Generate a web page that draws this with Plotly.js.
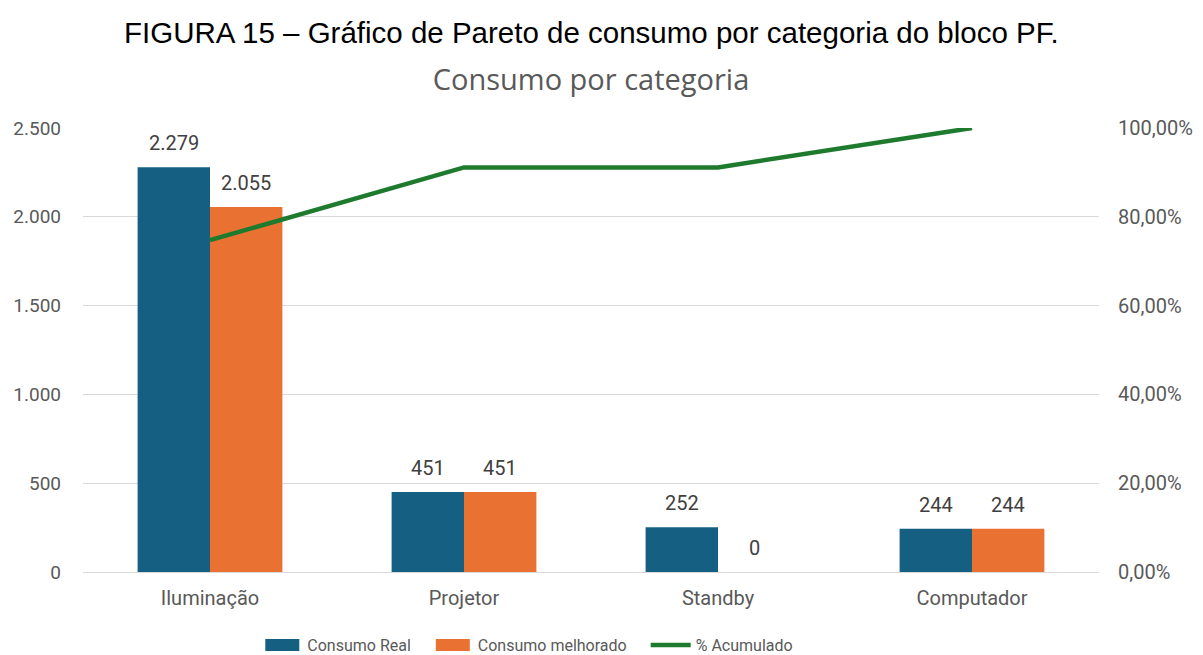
<!DOCTYPE html>
<html>
<head>
<meta charset="utf-8">
<script src="https://cdn.plot.ly/plotly-3.0.1.min.js"></script>
<style>html,body{margin:0;padding:0;background:#fff;}#chart{width:1203px;height:655px;}</style>
</head>
<body>
<div id="chart"></div>
<script>
var categories = ["Iluminação", "Projetor", "Standby", "Computador"];
var consumoReal = [2279, 451, 252, 244];
var consumoMelhorado = [2055, 451, 0, 244];
var acumulado = [0.7473, 0.9113, 0.9113, 1.0];
var leftTicks = [0, 500, 1000, 1500, 2000, 2500];
var rightTicks = [0, 0.2, 0.4, 0.6, 0.8, 1.0];

function fmt(n) { return String(n).replace(/\B(?=(\d{3})+(?!\d))/g, "."); }

var gray = "#595959";
var tickFont = {family: "Roboto, sans-serif", size: 19, color: gray};
var rightFont = {family: "Roboto, sans-serif", size: 20, color: gray};
var catFont = {family: "Roboto, sans-serif", size: 20, color: gray};
var labelFont = {family: "Roboto, sans-serif", size: 20, color: "#404040"};

var traces = [
  {type: "bar", name: "Consumo Real", x: categories, y: consumoReal,
   marker: {color: "#156082"}, hoverinfo: "none"},
  {type: "bar", name: "Consumo melhorado", x: categories, y: consumoMelhorado,
   marker: {color: "#E97132"}, hoverinfo: "none"},
  {type: "scatter", mode: "lines", name: "% Acumulado", x: categories, y: acumulado,
   yaxis: "y2", line: {color: "#1E7B2E", width: 4.5}, hoverinfo: "none"}
];

var annotations = [];
categories.forEach(function (c, i) {
  annotations.push({x: c, y: consumoReal[i], xref: "x", yref: "y", text: fmt(consumoReal[i]),
    showarrow: false, xshift: -36, yshift: 10, yanchor: "bottom", font: labelFont});
  annotations.push({x: c, y: consumoMelhorado[i], xref: "x", yref: "y", text: fmt(consumoMelhorado[i]),
    showarrow: false, xshift: 36, yshift: 10, yanchor: "bottom", font: labelFont});
});
annotations.push({xref: "paper", yref: "paper", x: 0.5, y: 1, yshift: 96, xanchor: "center", yanchor: "middle",
  showarrow: false, text: "FIGURA 15 – Gráfico de Pareto de consumo por categoria do bloco PF.",
  font: {family: "Liberation Sans, Arial, sans-serif", size: 29.5, color: "#000"}});

var layout = {
  width: 1203, height: 655,
  margin: {l: 83, r: 104, t: 128, b: 83},
  separators: ",.",
  paper_bgcolor: "#fff", plot_bgcolor: "#fff",
  barmode: "group", bargap: 0.43, bargroupgap: 0,
  title: {text: "Consumo por categoria", x: 0.5, xanchor: "center", xref: "paper",
    y: 1 - 80 / 655, yanchor: "middle", yref: "container",
    font: {family: "Open Sans, sans-serif", size: 29, color: gray}},
  xaxis: {type: "category", tickfont: catFont, showgrid: false, showline: false, zeroline: false,
    ticks: "", ticklabelstandoff: 12, fixedrange: true},
  yaxis: {range: [0, 2500], tickvals: leftTicks, ticktext: leftTicks.map(fmt), tickfont: tickFont,
    showgrid: true, gridcolor: "#d9d9d9", gridwidth: 1, zeroline: true, zerolinecolor: "#d9d9d9",
    showline: false, ticks: "", ticklabelstandoff: 21, fixedrange: true},
  yaxis2: {range: [0, 1], tickvals: rightTicks, tickformat: ".2%", overlaying: "y", side: "right",
    tickfont: rightFont, showgrid: false, zeroline: false, showline: false, ticks: "",
    ticklabelstandoff: 18, fixedrange: true},
  showlegend: true,
  legend: {orientation: "h", x: 0.425, xanchor: "center", xref: "paper", y: 10 / 655, yanchor: "middle",
    yref: "container", font: {family: "Roboto, sans-serif", size: 16, color: gray},
    traceorder: "normal", itemwidth: 40},
  annotations: annotations
};

Plotly.newPlot("chart", traces, layout, {displayModeBar: false, staticPlot: true}).then(function (gd) {
  // widen the bar legend swatches into rectangles like the original
  var paths = gd.querySelectorAll(".legend .traces .legendpoints path.legendundefined");
  paths.forEach(function (p) { p.setAttribute("d", "M-17,6H17V-6H-17Z"); });
  // add the wider spacing between legend entries seen in the original
  var extra = [0, 12, 26];
  gd.querySelectorAll(".legend .traces").forEach(function (g, i) {
    var t = g.getAttribute("transform") || "";
    var m = t.match(/translate\(\s*([-\d.]+)[ ,]+([-\d.]+)\s*\)/);
    if (m) g.setAttribute("transform", "translate(" + (parseFloat(m[1]) + (extra[i] || 0)) + "," + m[2] + ")");
  });
  gd.querySelectorAll(".legend [clip-path]").forEach(function (el) { el.removeAttribute("clip-path"); });
});
</script>
</body>
</html>
